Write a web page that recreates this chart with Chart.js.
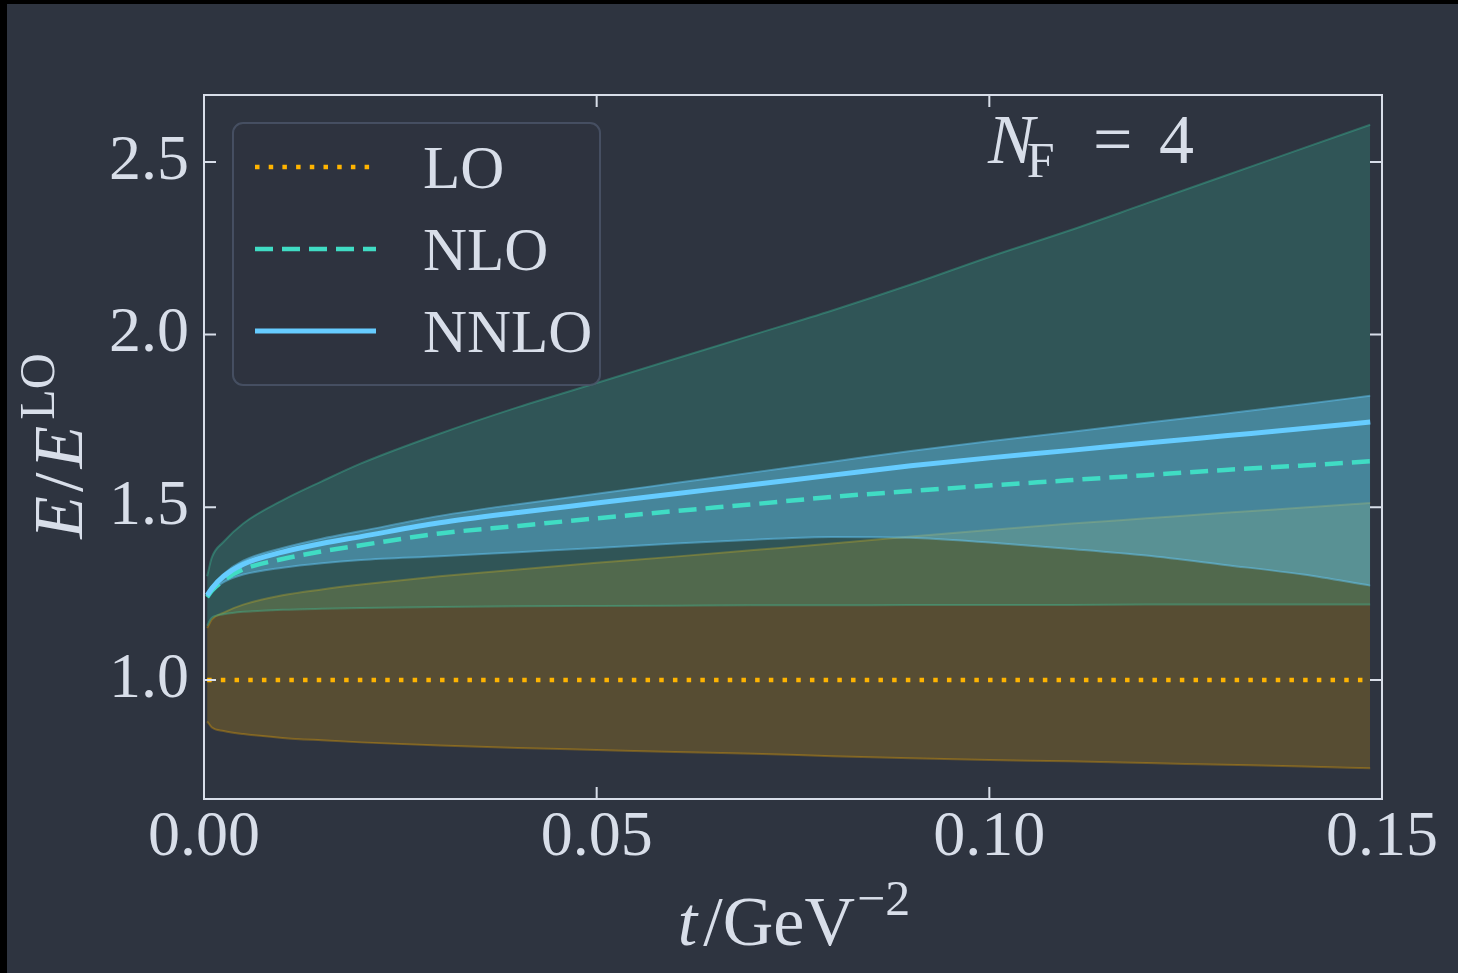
<!DOCTYPE html>
<html>
<head>
<meta charset="utf-8">
<script src="https://cdn.jsdelivr.net/npm/chart.js@4.4.0/dist/chart.umd.min.js"></script>
<style>
  html, body { margin: 0; padding: 0; background: #000; overflow: hidden; }
  #wrap { position: absolute; left: 7px; top: 4px; width: 1451px; height: 969px; background: #2e3440; }
</style>
</head>
<body>
<div id="wrap"><canvas id="chart"></canvas></div>
<script>
// flow time t in GeV^-2
const tValues = [0.0004, 0.001, 0.0025, 0.005, 0.01, 0.015, 0.02, 0.03, 0.04, 0.05, 0.06, 0.07, 0.08, 0.09, 0.10, 0.11, 0.12, 0.13, 0.14, 0.1485];

const loCentral = [1.0, 1.0, 1.0, 1.0, 1.0, 1.0, 1.0, 1.0, 1.0, 1.0, 1.0, 1.0, 1.0, 1.0, 1.0, 1.0, 1.0, 1.0, 1.0, 1.0];
const loUpper = [1.15, 1.175, 1.195, 1.218, 1.245, 1.262, 1.276, 1.300, 1.320, 1.339, 1.357, 1.376, 1.395, 1.415, 1.434, 1.452, 1.468, 1.484, 1.499, 1.512];
const loLower = [0.88, 0.862, 0.852, 0.843, 0.832, 0.825, 0.819, 0.810, 0.803, 0.797, 0.791, 0.786, 0.779, 0.773, 0.768, 0.764, 0.759, 0.754, 0.749, 0.744];

const nloCentral = [1.24, 1.258, 1.288, 1.32, 1.35, 1.372, 1.39, 1.424, 1.446, 1.468, 1.489, 1.509, 1.530, 1.547, 1.563, 1.578, 1.593, 1.608, 1.621, 1.633];
const nloUpper = [1.30, 1.355, 1.40, 1.453, 1.52, 1.575, 1.627, 1.713, 1.79, 1.86, 1.93, 2.0, 2.07, 2.145, 2.225, 2.30, 2.38, 2.46, 2.54, 2.608];
const nloLower = [1.157, 1.18, 1.19, 1.197, 1.203, 1.206, 1.208, 1.211, 1.213, 1.214, 1.215, 1.216, 1.216, 1.217, 1.217, 1.217, 1.218, 1.218, 1.218, 1.218];

const nnloCentral = [1.245, 1.265, 1.30, 1.335, 1.37, 1.395, 1.415, 1.455, 1.485, 1.512, 1.539, 1.566, 1.593, 1.62, 1.643, 1.664, 1.686, 1.707, 1.728, 1.747];
const nnloUpper = [1.25, 1.27, 1.307, 1.345, 1.382, 1.409, 1.431, 1.475, 1.509, 1.539, 1.570, 1.601, 1.632, 1.663, 1.691, 1.717, 1.745, 1.771, 1.798, 1.823];
const nnloLower = [1.24, 1.258, 1.283, 1.305, 1.325, 1.338, 1.347, 1.358, 1.37, 1.382, 1.395, 1.406, 1.414, 1.412, 1.398, 1.38, 1.36, 1.333, 1.305, 1.273];

const xTicks = [0, 0.05, 0.10, 0.15];
const yTicks = [1.0, 1.5, 2.0, 2.5];
const legendLabels = ["LO", "NLO", "NNLO"];

const FG = "#d8dee9";
const SERIF = '"Liberation Serif", "DejaVu Serif", serif';

function pts(ys) {
  return tValues.map((t, i) => ({ x: t, y: ys[i] }));
}

function edge(label, ys, color, order, fillTarget, fillColor) {
  return {
    label: label,
    data: pts(ys),
    borderColor: color,
    borderWidth: 2,
    pointRadius: 0,
    cubicInterpolationMode: "monotone",
    fill: fillTarget === undefined ? false : { target: fillTarget },
    backgroundColor: fillColor || "transparent",
    order: order
  };
}

const datasets = [
  { label: "NNLO", data: pts(nnloCentral), borderColor: "#66ccff", borderWidth: 5, pointRadius: 0, cubicInterpolationMode: "monotone", fill: false, order: 1 },
  { label: "NLO", data: pts(nloCentral), borderColor: "#40dcc4", borderWidth: 4.5, borderDash: [18, 9], pointRadius: 0, cubicInterpolationMode: "monotone", fill: false, order: 2 },
  { label: "LO", data: pts(loCentral), borderColor: "#ffb400", borderWidth: 4.5, borderDash: [4.5, 9.2], pointRadius: 0, fill: false, order: 3 },
  edge("NNLO up", nnloUpper, "rgba(102,204,255,0.45)", 4, 4, "rgba(102,204,255,0.4)"),
  edge("NNLO low", nnloLower, "rgba(102,204,255,0.45)", 4),
  edge("NLO up", nloUpper, "rgba(60,200,160,0.35)", 5, 6, "rgba(60,220,180,0.2)"),
  edge("NLO low", nloLower, "rgba(60,200,160,0.35)", 5),
  edge("LO up", loUpper, "rgba(230,160,0,0.35)", 6, 8, "rgba(255,180,0,0.2)"),
  edge("LO low", loLower, "rgba(230,160,0,0.35)", 6)
];

// frame, inward ticks, titles, legend and annotation
const decorations = {
  id: "decorations",
  afterDraw(chart) {
    const ctx = chart.ctx;
    const a = chart.chartArea;
    const sx = chart.scales.x, sy = chart.scales.y;
    ctx.save();
    ctx.strokeStyle = FG;
    ctx.lineWidth = 2;
    ctx.strokeRect(a.left, a.top, a.right - a.left, a.bottom - a.top);
    ctx.beginPath();
    xTicks.forEach(v => {
      const px = sx.getPixelForValue(v);
      ctx.moveTo(px, a.bottom); ctx.lineTo(px, a.bottom - 12);
      ctx.moveTo(px, a.top); ctx.lineTo(px, a.top + 12);
    });
    yTicks.forEach(v => {
      const py = sy.getPixelForValue(v);
      ctx.moveTo(a.left, py); ctx.lineTo(a.left + 12, py);
      ctx.moveTo(a.right, py); ctx.lineTo(a.right - 12, py);
    });
    ctx.stroke();

    ctx.fillStyle = FG;
    ctx.textBaseline = "alphabetic";

    // x title: t/GeV^-2
    const big = "70px " + SERIF, bigI = "italic 70px " + SERIF, small = "50px " + SERIF;
    ctx.font = bigI; const wT = ctx.measureText("t").width + 6;
    ctx.font = big; const wG = ctx.measureText("/GeV").width;
    ctx.font = small; const wS = ctx.measureText("\u22122").width;
    let x0 = (a.left + a.right) / 2 - (wT + wG + wS) / 2;
    const by = 941;
    ctx.font = bigI; ctx.fillText("t", x0, by);
    ctx.font = big; ctx.fillText("/GeV", x0 + wT, by);
    ctx.font = small; ctx.fillText("\u22122", x0 + wT + wG + 2, by - 30);

    // y title: E/E^LO
    ctx.save();
    ctx.translate(75, (a.top + a.bottom) / 2);
    ctx.rotate(-Math.PI / 2);
    ctx.font = bigI; const wE = ctx.measureText("E").width + 4;
    ctx.font = big; const wSl = ctx.measureText("/").width + 4;
    ctx.font = small; const wLO = ctx.measureText("LO").width;
    let y0 = -(wE * 2 + wSl + wLO) / 2;
    ctx.font = bigI; ctx.fillText("E", y0, 0);
    ctx.font = big; ctx.fillText("/", y0 + wE, 0);
    ctx.font = bigI; ctx.fillText("E", y0 + wE + wSl, 0);
    ctx.font = small; ctx.fillText("LO", y0 + wE * 2 + wSl + 2, -28);
    ctx.restore();

    // N_F = 4
    ctx.font = "italic 70px " + SERIF; ctx.fillText("N", 981, 159);
    const wN = ctx.measureText("N").width;
    ctx.font = small; ctx.fillText("F", 981 + wN - 8, 173);
    ctx.font = big; ctx.fillText("=", 1086, 159);
    ctx.fillText("4", 1152, 159);

    // legend
    const lx = 226, ly = 119, lw = 367, lh = 262;
    ctx.beginPath();
    ctx.roundRect(lx, ly, lw, lh, 10);
    ctx.fillStyle = "rgba(46,52,64,0.85)";
    ctx.fill();
    ctx.strokeStyle = "rgba(76,86,106,0.8)";
    ctx.lineWidth = 2;
    ctx.stroke();
    const rows = [163, 245, 327];
    const sets = [2, 1, 0];
    legendLabels.forEach((lab, i) => {
      const ds = chart.data.datasets[sets[i]];
      ctx.save();
      ctx.strokeStyle = ds.borderColor;
      ctx.lineWidth = ds.borderWidth;
      ctx.setLineDash(ds.borderDash || []);
      ctx.beginPath();
      ctx.moveTo(248, rows[i]); ctx.lineTo(369, rows[i]);
      ctx.stroke();
      ctx.restore();
      ctx.fillStyle = FG;
      ctx.font = "61px " + SERIF;
      ctx.fillText(lab, 416, rows[i] + 21);
    });
    ctx.restore();
  }
};

new Chart(document.getElementById("chart"), {
  type: "line",
  data: { datasets: datasets },
  options: {
    responsive: true,
    maintainAspectRatio: false,
    animation: false,
    devicePixelRatio: 1,
    layout: { padding: { top: 91, right: 76, left: 0, bottom: 0 } },
    plugins: { legend: { display: false }, tooltip: { enabled: false } },
    scales: {
      x: {
        type: "linear",
        min: 0, max: 0.15,
        afterBuildTicks: s => { s.ticks = xTicks.map(v => ({ value: v })); },
        afterFit: s => { s.height = 174; },
        ticks: { autoSkip: false, maxRotation: 0, color: FG, padding: -7, font: { family: SERIF, size: 64 }, callback: v => v.toFixed(2) },
        grid: { display: false },
        border: { display: false }
      },
      y: {
        min: 0.655, max: 2.694,
        afterBuildTicks: s => { s.ticks = yTicks.map(v => ({ value: v })); },
        afterFit: s => { s.width = 197; },
        ticks: { color: FG, padding: 7, font: { family: SERIF, size: 64 }, callback: v => v.toFixed(1) },
        grid: { display: false },
        border: { display: false }
      }
    }
  },
  plugins: [decorations]
});
</script>
</body>
</html>
